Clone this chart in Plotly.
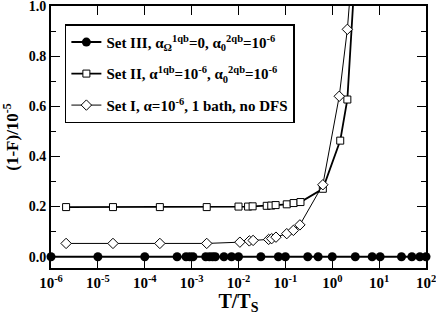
import plotly.graph_objects as go

# Set III (filled circles)
x3 = [1e-6, 1e-5, 1e-4, 4.9e-4, 7.6e-4, 9.1e-4, 1.07e-3, 2.0e-3, 2.4e-3, 2.8e-3, 3.2e-3,
      4.9e-3, 7.1e-3, 1.0e-2, 3.0e-2, 7.1e-2, 0.1, 0.3, 0.5, 1.0, 3.1, 7.1, 10.5, 30, 50, 74, 100]
y3 = [0.0] * len(x3)

# Set II (open squares)
x2 = [2.1e-6, 2.1e-5, 2.1e-4, 2.1e-3, 1.0e-2, 1.6e-2, 2.0e-2, 4.0e-2, 5.0e-2, 6.2e-2,
      0.107, 0.15, 0.21, 0.63, 1.48, 2.1, 3.0]
y2 = [0.198, 0.198, 0.198, 0.198, 0.200, 0.200, 0.201, 0.203, 0.204, 0.206,
      0.209, 0.214, 0.218, 0.271, 0.463, 0.627, 1.11]

# Set I (open diamonds)
x1 = [2.1e-6, 2.1e-5, 2.1e-4, 2.1e-3, 1.07e-2, 1.7e-2, 2.05e-2, 4.4e-2, 5.1e-2, 6.3e-2,
      0.107, 0.148, 0.204, 0.63, 1.41, 2.1, 3.0]
y1 = [0.053, 0.053, 0.053, 0.053, 0.058, 0.063, 0.065, 0.069, 0.072, 0.078,
      0.092, 0.105, 0.127, 0.287, 0.64, 0.907, 1.27]

names = [
    "Set III, α<sub>Ω</sub><sup>1qb</sup>=0, α<sub>0</sub><sup>2qb</sup>=10<sup>-6</sup>",
    "Set II, α<sup>1qb</sup>=10<sup>-6</sup>, α<sub>0</sub><sup>2qb</sup>=10<sup>-6</sup>",
    "Set I, α=10<sup>-6</sup>, 1 bath, no DFS",
]

xtickvals = [1e-6, 1e-5, 1e-4, 1e-3, 1e-2, 1e-1, 1e0, 1e1, 1e2]
xticktext = ["10<sup>-6</sup>", "10<sup>-5</sup>", "10<sup>-4</sup>", "10<sup>-3</sup>",
             "10<sup>-2</sup>", "10<sup>-1</sup>", "10<sup>0</sup>", "10<sup>1</sup>", "10<sup>2</sup>"]
ytickvals = [0, 0.2, 0.4, 0.6, 0.8, 1.0]

FONT = "Liberation Serif"

fig = go.Figure()
fig.add_trace(go.Scatter(x=x3, y=y3, mode="lines+markers", name="<b>" + names[0] + "</b>",
                         legendgroup="g3",
                         line=dict(color="black", width=2),
                         marker=dict(symbol="circle", size=9, color="black"),
                         cliponaxis=False))
fig.add_trace(go.Scatter(x=x2, y=y2, mode="lines+markers", name="<b>" + names[1] + "</b>",
                         legendgroup="g2",
                         line=dict(color="black", width=1.8),
                         marker=dict(symbol="square", size=7, color="white",
                                     line=dict(color="black", width=1))))
fig.add_trace(go.Scatter(x=x1, y=y1, mode="lines+markers", name="<b>" + names[2] + "</b>",
                         legendgroup="g1",
                         line=dict(color="black", width=1),
                         marker=dict(symbol="diamond", size=8, color="white",
                                     line=dict(color="black", width=1))))

fig.update_layout(
    width=436, height=315,
    margin=dict(l=51, r=10, t=6, b=47, autoexpand=False),
    paper_bgcolor="white", plot_bgcolor="white",
    font=dict(family=FONT, color="black", size=14),
    showlegend=True,
    legend=dict(x=0.037, y=0.93, xanchor="left", yanchor="top",
                bgcolor="white", bordercolor="black", borderwidth=1.5,
                font=dict(family=FONT, size=15, color="black"),
                tracegroupgap=9, itemwidth=30),
)
fig.update_xaxes(
    type="log", range=[-6, 2], tickvals=xtickvals,
    ticktext=["<b>" + t + "</b>" for t in xticktext],
    ticks="inside", ticklen=9, tickwidth=1, tickcolor="black",
    showline=True, linecolor="black", linewidth=2, mirror="ticks",
    showgrid=False, zeroline=False, automargin=False, ticklabeloverflow="allow",
    tickfont=dict(family=FONT, size=15, color="black"),
    title=dict(text="<b>T/T<sub>S</sub></b>", font=dict(family=FONT, size=20, color="black"), standoff=2),
)
fig.update_yaxes(
    range=[-0.045, 1.0], tickvals=ytickvals,
    ticktext=["<b>%.1f</b>" % v for v in ytickvals],
    ticks="inside", ticklen=9, tickwidth=1, tickcolor="black",
    minor=dict(ticks="inside", ticklen=5, tickvals=[0.1, 0.3, 0.5, 0.7, 0.9], tickcolor="black"),
    showline=True, linecolor="black", linewidth=2, mirror="ticks",
    showgrid=False, zeroline=False, automargin=False, ticklabeloverflow="allow",
    tickfont=dict(family=FONT, size=14, color="black"),
    title=dict(text="<b>(1-F)/10<sup>-5</sup></b>", font=dict(family=FONT, size=17, color="black"), standoff=6),
)

fig.write_html("out.html", config={"displayModeBar": False},
               post_script="document.body.style.margin='0';document.body.style.padding='0';")
